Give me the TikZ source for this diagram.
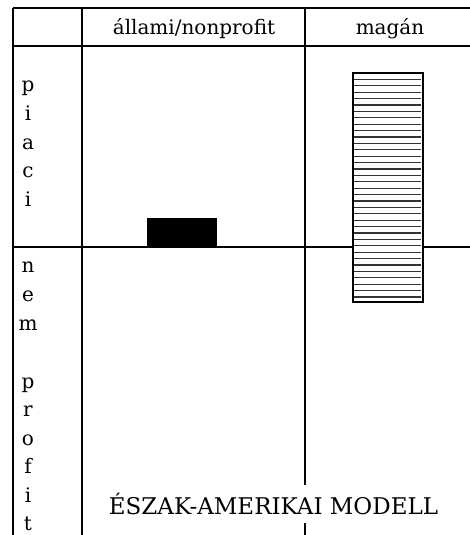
\documentclass[tikz,border=0pt]{standalone}
\usepackage{fontspec}
\newfontfamily\dvs{DejaVu Serif}
\begin{document}
\begin{tikzpicture}[x=1pt,y=-1pt,
  grid/.style={line width=1.3pt,black},
  lbl/.style={font=\dvs\fontsize{20}{24}\selectfont,anchor=base,inner sep=0pt},
  hatchline/.style={line width=1.2pt,black!80},
  bar/.style={line width=1.2pt,draw=black}]
\useasboundingbox (0,0) rectangle (470,535);
% grid
\draw[grid] (13,8) -- (470,8);
\draw[grid] (13,46) -- (470,46);
\draw[grid] (13,247) -- (470,247);
\draw[grid] (13,8) -- (13,535);
\draw[grid] (82,8) -- (82,535);
\draw[grid] (305,8) -- (305,535);
% headers
\node[lbl] (h1) at (194,35) {állami/nonprofit};
\node[lbl] (h2) at (390,35) {magán};
% row labels
\foreach \ch/\yy [count=\k] in {p/92,i/120.5,a/149,c/177.5,i/206}
  \node[lbl] (r1\k) at (28,\yy) {\ch};
\foreach \ch/\yy [count=\k] in {n/272,e/301,m/330,p/388,r/416.5,o/445,f/473.5,i/502,t/530.5}
  \node[lbl] (r2\k) at (28,\yy) {\ch};
% black bar
\fill[black] (147,218) rectangle (217,247);
% hatched bar
\filldraw[bar,fill=white] (353,73) rectangle (423,302);
\foreach \k in {0,...,34}
  \draw[hatchline] (354,79.3+6.4*\k) -- (420.5,79.3+6.4*\k);
% title
\node[font=\dvs\fontsize{23}{28}\selectfont,fill=white,anchor=base,
  text height=24pt,text depth=4pt,inner xsep=0pt,inner ysep=5pt] (title) at (273.5,514) {ÉSZAK-AMERIKAI MODELL};
\end{tikzpicture}
\end{document}
